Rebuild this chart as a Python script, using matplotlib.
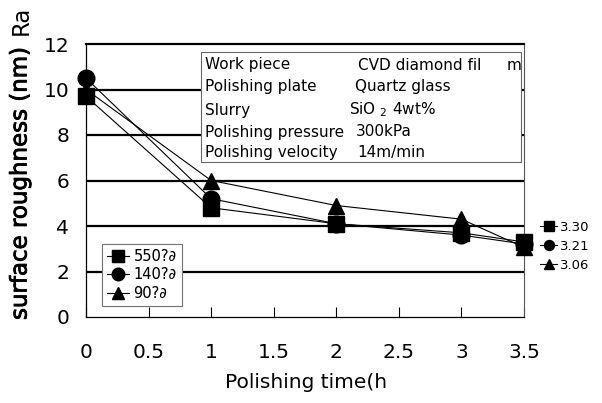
import matplotlib
matplotlib.use("Agg")
import matplotlib.pyplot as plt
import matplotlib.patheffects as pe
from matplotlib.patches import Rectangle

# data
time_h = [0, 1, 2, 3, 3.5]
ra_550 = [9.7, 4.8, 4.1, 3.7, 3.30]
ra_140 = [10.5, 5.2, 4.1, 3.6, 3.21]
ra_90 = [10.0, 6.0, 4.9, 4.3, 3.06]

series_names = ["550?\u2202", "140?\u2202", "90?\u2202"]
series_vals = [ra_550, ra_140, ra_90]
markers = ["s", "o", "^"]

x_ticks = [0, 0.5, 1, 1.5, 2, 2.5, 3, 3.5]
x_tick_labels = ["0", "0.5", "1", "1.5", "2", "2.5", "3", "3.5"]
y_ticks = [0, 2, 4, 6, 8, 10, 12]

info_keys = ["Work piece", "Polishing plate", "Slurry",
             "Polishing pressure", "Polishing velocity"]
info_vals = ["CVD diamond fil", "Quartz glass", "SiO $_{2}$ 4wt%",
             "300kPa", "14m/min"]

W, H = 602, 403
fig = plt.figure(figsize=(W / 100, H / 100), dpi=100)
plt.rcParams['font.family'] = ['DejaVu Sans']


def px(x, y):
    # pixel coords (from top-left) to figure fraction
    return x / W, 1 - y / H


ax_l, ax_t, ax_r, ax_b = 86, 44, 524, 317
ax = fig.add_axes([ax_l / W, 1 - ax_b / H, (ax_r - ax_l) / W, (ax_b - ax_t) / H])

ax.set_xlim(0, 3.5)
ax.set_ylim(0, 12)

# thick horizontal grid lines
for yv in y_ticks[1:-1]:
    ax.axhline(yv, color="black", lw=1.6, zorder=1)

lines = []
for vals, m in zip(series_vals, markers):
    ln, = ax.plot(time_h, vals, color="black", lw=0.8, marker=m,
                  markersize=12, clip_on=False, zorder=3)
    lines.append(ln)

ax.spines["top"].set_linewidth(1.6)
ax.spines["left"].set_linewidth(0.9)
ax.spines["bottom"].set_linewidth(0.9)
ax.spines["right"].set_color("#555555")
ax.spines["right"].set_linewidth(0.8)

ax.set_xticks(x_ticks)
ax.set_xticklabels(x_tick_labels)
ax.set_yticks(y_ticks)
ax.tick_params(axis="x", direction="in", length=7, width=0.8, pad=19, labelsize=14.5)
ax.tick_params(axis="y", length=0, pad=12, labelsize=14.5)

# series legend (lower left)
leg = ax.legend(lines, series_names, loc="lower left",
                bbox_to_anchor=(0.037, 0.04), fontsize=10.5, frameon=True,
                fancybox=False, edgecolor="#666666", handlelength=1.5,
                handletextpad=0.3, borderpad=0.35, labelspacing=0.25,
                borderaxespad=0, markerscale=0.75)
leg.get_frame().set_linewidth(0.8)
leg.set_zorder(5)
ax.add_artist(leg)

# final values to the right of the plot
end_labels = [f"{v[-1]:.2f}" for v in series_vals]
leg2 = fig.legend(lines, end_labels, loc="upper left",
                  bbox_to_anchor=px(540, 221), fontsize=9.5, frameon=False,
                  handlelength=1.3, handletextpad=0.25, labelspacing=0.45,
                  borderpad=0, borderaxespad=0, markerscale=0.6)

# conditions box
bx0, by0, bx1, by1 = 201, 52, 521, 162
fig.patches.append(Rectangle(px(bx0, by1), (bx1 - bx0) / W, (by1 - by0) / H,
                             transform=fig.transFigure, facecolor="white",
                             edgecolor="#666666", lw=0.8, zorder=4))
row_y = [65, 86, 110, 132, 152]
val_x = [358, 355, 349, 356, 357]
for k, v, yy, vx in zip(info_keys, info_vals, row_y, val_x):
    fig.text(*px(205, yy), k, fontsize=11, va="center", ha="left", zorder=6)
    fig.text(*px(vx, yy), v, fontsize=11, va="center", ha="left", zorder=6)
fig.text(*px(507, row_y[0]), "m", fontsize=11, va="center", ha="left", zorder=6)

# axis labels
fig.text(*px(306, 383), "Polishing time(h", fontsize=14.5, ha="center", va="center")
fig.text(*px(20, 320), "surface roughness (nm)", fontsize=16.5, rotation=90,
         ha="center", va="bottom",
         path_effects=[pe.withStroke(linewidth=0.6, foreground="black")])
fig.text(*px(21, 6), "Ra", fontsize=16.5, rotation=90, ha="center", va="top")

fig.savefig("out.png", dpi=100)
